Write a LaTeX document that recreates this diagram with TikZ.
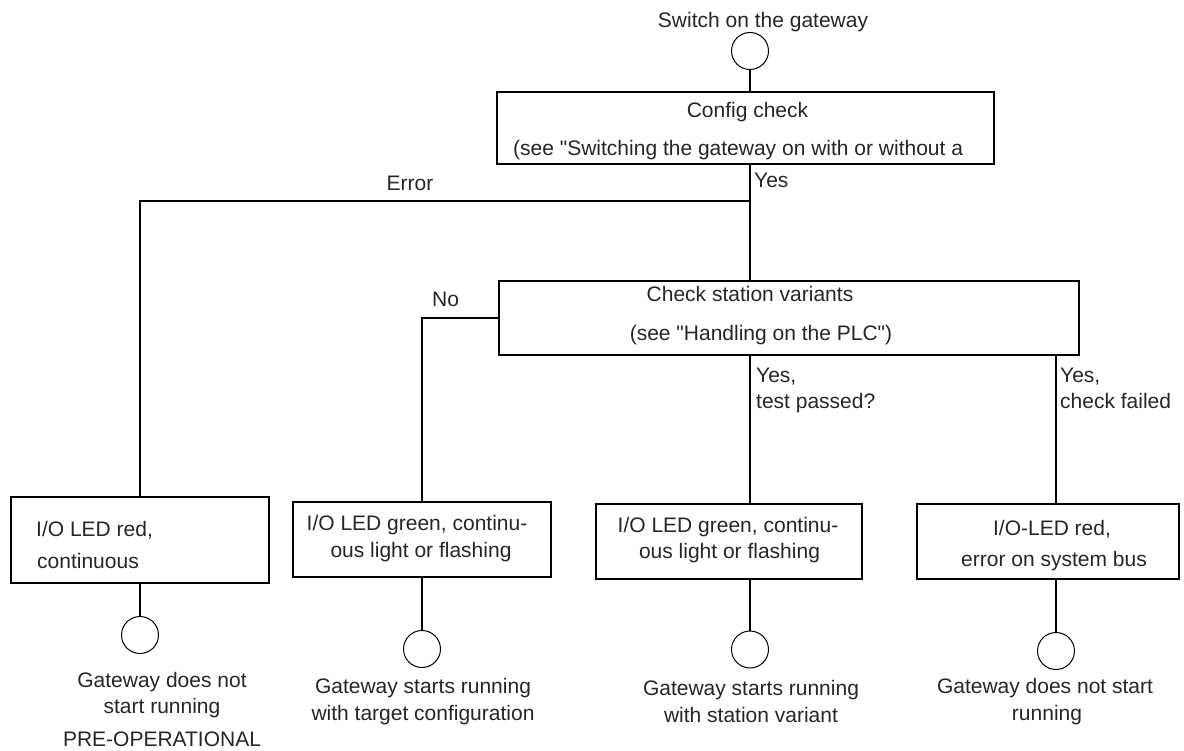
\documentclass[tikz,border=0pt]{standalone}
\usepackage{fontspec}
\setmainfont{Liberation Sans}[Ligatures=TeXOff]
\begin{document}
\begin{tikzpicture}[x=1pt,y=-1pt,
  conn/.style={line width=1.6pt},
  box/.style={draw, line width=1.6pt, rectangle, inner sep=0pt},
  term/.style={draw, circle, line width=1pt, minimum size=37pt, inner sep=0pt},
  txt/.style={font=\fontsize{21}{27}\selectfont, inner sep=0pt, text=black!85},
]
\useasboundingbox (0,0) rectangle (1184,751);

% spine coordinates
\coordinate (sp) at (750,0);
\coordinate (jE) at (750,201);

% boxes
\node[box, minimum width=497pt, minimum height=72pt] (config) at (745.5,128) {};
\node[box, minimum width=580pt, minimum height=74pt] (check) at (789,318) {};
\node[box, minimum width=258pt, minimum height=86pt] (b1) at (140,540) {};
\node[box, minimum width=258pt, minimum height=75pt] (b2) at (422,539.5) {};
\node[box, minimum width=266pt, minimum height=75pt] (b3) at (729,541.5) {};
\node[box, minimum width=262pt, minimum height=75pt] (b4) at (1048,541.5) {};

% terminals
\node[term] (c0) at (750,51) {};
\node[term] (c1) at (140,635) {};
\node[term] (c2) at (422,649) {};
\node[term] (c3) at (750,649.5) {};
\node[term] (c4) at (1056,651) {};

% texts
\node[txt, anchor=base] (tstart) at (763,28) {Switch on the gateway};
\node[txt, anchor=base] (tcfg1) at (747.5,118) {Config check};
\node[txt, anchor=base west] (tcfg2) at (513,156) {(see "Switching the gateway on with or without a};
\node[txt, anchor=base west] (lyes0) at (754,188) {Yes};
\node[txt, anchor=base] (lerr) at (410,191) {Error};
\node[txt, anchor=base west] (lno) at (432,307) {No};
\node[txt, anchor=base] (tchk1) at (750,302) {Check station variants};
\node[txt, anchor=base] (tchk2) at (761,341) {(see "Handling on the PLC")};
\node[txt, anchor=base west] (lyes1a) at (756,382) {Yes,};
\node[txt, anchor=base west] (lyes1b) at (756,408) {test passed?};
\node[txt, anchor=base west] (lyes2a) at (1060,382) {Yes,};
\node[txt, anchor=base west] (lyes2b) at (1060,408) {check failed};

\node[txt, anchor=base west] (t1a) at (36,536) {I/O LED red,};
\node[txt, anchor=base west] (t1b) at (37,568) {continuous};
\node[txt, anchor=base] (t2a) at (417,530) {I/O LED green, continu-};
\node[txt, anchor=base] (t2b) at (421,557) {ous light or flashing};
\node[txt, anchor=base] (t3a) at (728,532) {I/O LED green, continu-};
\node[txt, anchor=base] (t3b) at (729.5,558) {ous light or flashing};
\node[txt, anchor=base] (t4a) at (1052,535) {I/O-LED red,};
\node[txt, anchor=base] (t4b) at (1054,566) {error on system bus};

\node[txt, anchor=base] (e1a) at (162,687) {Gateway does not};
\node[txt, anchor=base] (e1b) at (162,713) {start running};
\node[txt, anchor=base] (e1c) at (162,746) {PRE-OPERATIONAL};
\node[txt, anchor=base] (e2a) at (423,693) {Gateway starts running};
\node[txt, anchor=base] (e2b) at (423,720) {with target configuration};
\node[txt, anchor=base] (e3a) at (751,695) {Gateway starts running};
\node[txt, anchor=base] (e3b) at (751,722) {with station variant};
\node[txt, anchor=base] (e4a) at (1045,693) {Gateway does not start};
\node[txt, anchor=base] (e4b) at (1047,720) {running};

% connectors
\draw[conn] (c0.south) -- (config.north -| c0);
\draw[conn] (config.south -| sp) -- (check.north -| sp);
\draw[conn] (jE) -| (b1.north);
\draw[conn] (check.west) -| (b2.north);
\draw[conn] (check.south -| sp) -- (b3.north -| sp);
\draw[conn] (check.south -| c4) -- (b4.north -| c4);
\draw[conn] (b1.south) -- (c1.north);
\draw[conn] (b2.south) -- (c2.north);
\draw[conn] (b3.south -| c3) -- (c3.north);
\draw[conn] (b4.south -| c4) -- (c4.north);
\end{tikzpicture}
\end{document}
